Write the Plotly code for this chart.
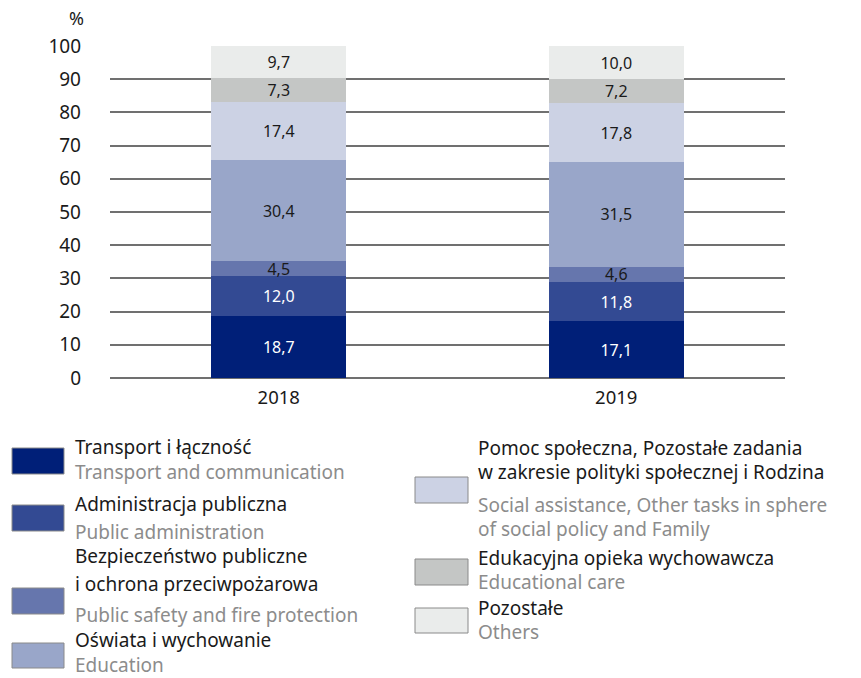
import plotly.graph_objects as go

years = ["2018", "2019"]
series_pl = ["Transport i łączność", "Administracja publiczna",
             "Bezpieczeństwo publiczne i ochrona przeciwpożarowa", "Oświata i wychowanie",
             "Pomoc społeczna, Pozostałe zadania w zakresie polityki społecznej i Rodzina",
             "Edukacyjna opieka wychowawcza", "Pozostałe"]
series_en = ["Transport and communication", "Public administration",
             "Public safety and fire protection", "Education",
             "Social assistance, Other tasks in sphere of social policy and Family",
             "Educational care", "Others"]
transport = [18.7, 17.1]
administracja = [12.0, 11.8]
bezpieczenstwo = [4.5, 4.6]
oswiata = [30.4, 31.5]
pomoc = [17.4, 17.8]
edukacyjna = [7.3, 7.2]
pozostale = [9.7, 10.0]
y_ticks = [0, 10, 20, 30, 40, 50, 60, 70, 80, 90, 100]

values = [transport, administracja, bezpieczenstwo, oswiata, pomoc, edukacyjna, pozostale]
colors = ["#001f78", "#334a93", "#6676ad", "#99a6c9", "#ccd2e4", "#c4c6c5", "#eaeceb"]
text_colors = ["white", "white", "#1a1a1a", "#1a1a1a", "#1a1a1a", "#1a1a1a", "#1a1a1a"]

W, H = 861, 678
L, R, T, B = 110, 76, 46, 300
FONT = "Noto Sans"
BLACK, GREY = "#1a1a1a", "#8c8c8c"

fig = go.Figure()
for name, vals, c, tc in zip(series_pl, values, colors, text_colors):
    fig.add_trace(go.Bar(
        x=years, y=vals, name=name, marker=dict(color=c, line=dict(width=0)),
        width=0.4, texttemplate="%{y:.1f}", textposition="inside",
        insidetextanchor="middle", textangle=0, constraintext="none",
        textfont=dict(family=FONT, size=16, color=tc), showlegend=False))

def px(x):
    return (x - L) / (W - L - R)

def py(y):
    return (H - B - y) / (H - T - B)

shapes = []
annotations = []

legend_items = [
    ((12, 448, 64, 474), 74, [("Transport i łączność", 447, BLACK),
                              ("Transport and communication", 472, GREY)], colors[0]),
    ((12, 505, 64, 531), 74, [("Administracja publiczna", 504, BLACK),
                              ("Public administration", 532, GREY)], colors[1]),
    ((12, 588, 64, 614), 74, [("Bezpieczeństwo publiczne", 556, BLACK),
                              ("i ochrona przeciwpożarowa", 584, BLACK),
                              ("Public safety and fire protection", 615, GREY)], colors[2]),
    ((12, 643, 64, 668), 74, [("Oświata i wychowanie", 640, BLACK),
                              ("Education", 665, GREY)], colors[3]),
    ((415, 477, 468, 503), 477, [("Pomoc społeczna, Pozostałe zadania", 448, BLACK),
                                 ("w zakresie polityki społecznej i Rodzina", 472, BLACK),
                                 ("Social assistance, Other tasks in sphere", 505, GREY),
                                 ("of social policy and Family", 529, GREY)], colors[4]),
    ((415, 559, 468, 585), 477, [("Edukacyjna opieka wychowawcza", 558, BLACK),
                                 ("Educational care", 582, GREY)], colors[5]),
    ((415, 608, 468, 633), 477, [("Pozostałe", 608, BLACK),
                                 ("Others", 632, GREY)], colors[6]),
]

for (x0, y0, x1, y1), tx, lines, c in legend_items:
    shapes.append(dict(type="rect", xref="paper", yref="paper",
                       x0=px(x0), x1=px(x1), y0=py(y0), y1=py(y1),
                       fillcolor=c, line=dict(color="#8a8a8a", width=1)))
    for txt, ty, col in lines:
        annotations.append(dict(xref="paper", yref="paper", x=px(tx), y=py(ty),
                                xanchor="left", yanchor="middle", text=txt, showarrow=False,
                                borderpad=0,
                                font=dict(family=FONT, size=19, color=col)))

annotations.append(dict(xref="paper", yref="paper", x=px(86), y=py(18), xanchor="right",
                        yanchor="middle", text="%", showarrow=False,
                        font=dict(family=FONT, size=18, color=BLACK)))

fig.update_layout(
    width=W, height=H, barmode="stack", separators=", ",
    margin=dict(l=L, r=R, t=T, b=B, autoexpand=False),
    plot_bgcolor="white", paper_bgcolor="white",
    font=dict(family=FONT, size=18, color=BLACK),
    xaxis=dict(range=[-0.5, 1.5], showgrid=False, showline=False, ticks="",
               tickfont=dict(family=FONT, size=18.5, color=BLACK), ticklabelstandoff=6),
    yaxis=dict(range=[0, 100], tickvals=y_ticks, showgrid=True, gridcolor="#707070",
               gridwidth=1.5, zeroline=True, zerolinecolor="#707070", zerolinewidth=1.5,
               showline=False, ticks="", ticklabelstandoff=28,
               tickfont=dict(family=FONT, size=19, color=BLACK)),
    shapes=shapes, annotations=annotations,
)

fig.write_html("out.html", config={"displayModeBar": False},
               post_script="document.body.style.margin='0';document.body.style.overflow='hidden';")
